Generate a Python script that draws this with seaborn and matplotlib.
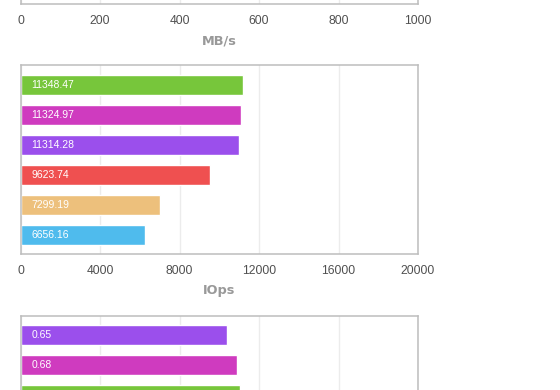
import pandas as pd
import seaborn as sns
import matplotlib.pyplot as plt

# top chart (only its x axis is in view)
mbs_ticks = [0, 200, 400, 600, 800, 1000]

# middle chart: IOps
iops_systems = ['s1', 's2', 's3', 's4', 's5', 's6']
iops_values = [11205, 11104, 11003, 9544, 7028, 6274]
iops_labels = ['11348.47', '11324.97', '11314.28', '9623.74', '7299.19', '6656.16']
iops_colors = ['#77c63b', '#cf3bbf', '#9b4fec', '#ef5050', '#edc07c', '#4fbbed']
iops_ticks = [0, 4000, 8000, 12000, 16000, 20000]

# bottom chart (only top three bars in view)
lat_systems = ['s3', 's2', 's1']
lat_values = [0.65, 0.68, 0.69]
lat_labels = ['0.65', '0.68', '']
lat_colors = ['#9b4fec', '#cf3bbf', '#77c63b']
lat_ticks = [0, 0.25, 0.5, 0.75, 1.0, 1.25]

sns.set_theme(style='white')
plt.rcParams['font.family'] = ['Liberation Sans', 'DejaVu Sans']

fig = plt.figure(figsize=(5.6, 3.9), dpi=100)
W, H = 560, 390


def make_ax(top_px):
    left, right, h = 20.5, 418, 189
    return fig.add_axes([left / W, (H - top_px - h) / H, (right - left) / W, h / H])


def style_ax(ax, ticks, xlabel, show_x=True):
    ax.set_xlim(ticks[0], ticks[-1])
    ax.set_ylim(5.65, -0.667)
    ax.set_xticks(ticks)
    ax.set_xticklabels([f'{t:g}' for t in ticks])
    ax.set_yticks([])
    ax.set_ylabel('')
    ax.grid(axis='x', color='#ececec', lw=1)
    ax.set_axisbelow(True)
    for s in ax.spines.values():
        s.set_color('#bdbdbd')
        s.set_linewidth(1.1)
    ax.tick_params(axis='x', length=0, pad=8, labelsize=8.7, labelcolor='#505050',
                   labelbottom=show_x)
    if show_x:
        ax.set_xlabel(xlabel, fontsize=9.3, fontweight='bold', color='#999999',
                      family='DejaVu Sans', labelpad=5)
    else:
        ax.set_xlabel('')


def bars(ax, names, values, labels, colors):
    df = pd.DataFrame({'system': names, 'value': values})
    sns.barplot(data=df, x='value', y='system', hue='system', palette=colors,
                orient='h', width=2 / 3, legend=False, ax=ax, saturation=1)
    for i, lab in enumerate(labels):
        ax.annotate(lab, xy=(0, i), xytext=(7.8, 0), textcoords='offset points',
                    ha='left', va='center', color='white', fontsize=7.5)


ax_top = make_ax(4 - 189)
style_ax(ax_top, mbs_ticks, 'MB/s')

ax_mid = make_ax(65)
bars(ax_mid, iops_systems, iops_values, iops_labels, iops_colors)
style_ax(ax_mid, iops_ticks, 'IOps')

# bottom chart: its axis text lies below the visible area
ax_bot = make_ax(315.5)
bars(ax_bot, lat_systems, lat_values, lat_labels, lat_colors)
style_ax(ax_bot, lat_ticks, 'ms', show_x=False)

fig.savefig('out.png', dpi=100)
